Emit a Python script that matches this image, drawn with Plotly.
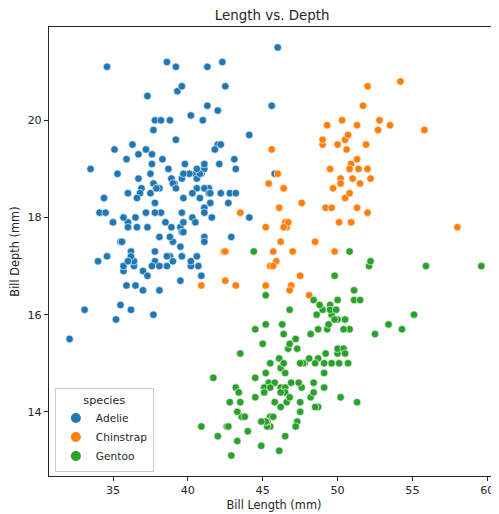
import plotly.graph_objects as go

adelie_len = [39.1,39.5,40.3,36.7,39.3,38.9,39.2,34.1,42.0,37.8,37.8,41.1,38.6,34.6,36.6,38.7,42.5,34.4,46.0,37.8,
              37.7,35.9,38.2,38.8,35.3,40.6,40.5,37.9,40.5,39.5,37.2,39.5,40.9,36.4,39.2,38.8,42.2,37.6,39.8,36.5,
              40.8,36.0,44.1,37.0,39.6,41.1,37.5,36.0,42.3,39.6,40.1,35.0,42.0,34.5,41.4,39.0,40.6,36.5,37.6,35.7,
              41.3,37.6,41.1,36.4,41.6,35.5,41.1,35.9,41.8,33.5,39.7,39.6,45.8,35.5,42.8,40.9,37.2,36.2,42.1,34.6,
              42.9,36.7,35.1,37.3,41.3,36.3,36.9,38.3,38.9,35.7,41.1,34.0,39.6,36.2,40.8,38.1,40.3,33.1,43.2,35.0,
              41.0,37.7,37.8,37.9,39.7,38.6,38.2,38.1,43.2,38.1,45.6,39.7,42.2,39.6,42.7,38.6,37.3,35.7,41.1,36.2,
              37.7,40.2,41.4,35.2,40.6,38.8,41.5,39.0,44.1,38.5,43.1,36.8,37.5,38.1,41.1,35.6,40.2,37.0,39.7,40.2,
              40.6,32.1,40.7,37.3,39.0,39.2,36.6,36.0,37.8,36.0,41.5]
adelie_dep = [18.7,17.4,18.0,19.3,20.6,17.8,19.6,18.1,20.2,17.1,17.3,17.6,21.2,21.1,17.8,19.0,20.7,18.4,21.5,18.3,
              18.7,19.2,18.1,17.2,18.9,18.6,17.9,18.6,18.9,16.7,18.1,17.8,18.9,17.0,21.1,20.0,18.5,19.3,19.1,18.0,
              18.4,18.5,19.7,16.9,18.8,19.0,18.9,17.9,21.2,17.7,18.9,17.9,19.5,18.1,18.6,17.5,18.8,16.6,19.1,16.9,
              21.1,17.0,18.2,17.1,18.0,16.2,19.1,16.6,19.4,19.0,18.4,17.2,18.9,17.5,18.5,16.8,19.4,16.1,19.1,17.2,
              17.6,18.8,19.4,17.8,20.3,19.5,18.6,19.2,18.8,18.0,18.1,17.1,18.1,17.3,18.9,18.6,18.5,16.1,18.5,17.9,
              20.0,16.0,20.0,18.6,18.9,17.2,20.0,17.0,19.0,16.5,20.3,17.7,19.5,20.7,18.3,17.0,20.5,17.0,18.6,17.2,
              19.8,17.0,18.5,15.9,19.0,17.6,18.3,17.1,18.0,17.9,19.2,18.5,18.5,17.6,17.5,17.5,20.1,16.5,17.9,17.1,
              17.2,15.5,17.0,16.8,18.7,18.6,18.4,17.8,18.1,17.1,18.5]

chinstrap_len = [46.5,50.0,51.3,45.4,52.7,45.2,46.1,51.3,46.0,51.3,46.6,51.7,47.0,52.0,45.9,50.5,50.3,58.0,46.4,49.2,
                 42.4,48.5,43.2,50.6,46.7,52.0,50.5,49.5,46.4,52.8,40.9,54.2,42.5,51.0,49.7,47.5,47.6,52.0,46.9,53.5,
                 49.0,46.2,50.9,45.5,50.9,50.8,50.1,49.0,51.5,49.8,48.1,51.4,45.7,50.7,42.5,52.2,45.2,49.3,50.2,45.6,
                 51.9,46.8,45.7,55.8,43.5,49.6,50.8,50.2]
chinstrap_dep = [17.9,19.5,19.2,18.7,19.8,17.8,18.2,18.2,18.9,19.9,17.8,20.3,17.3,18.1,17.1,19.6,20.0,17.8,18.6,18.2,
                 17.3,17.5,16.6,19.4,17.9,19.0,18.4,19.0,17.8,20.0,16.6,20.8,16.7,18.8,18.6,16.8,18.3,20.7,16.6,19.9,
                 19.5,17.5,19.1,17.0,17.9,18.5,17.9,19.6,18.7,17.3,16.4,19.0,17.3,19.7,17.3,18.8,16.6,19.9,18.8,19.4,
                 19.5,16.5,17.0,19.8,18.1,18.2,19.0,18.7]

gentoo_len = [46.1,50.0,48.7,50.0,47.6,46.5,45.4,46.7,43.3,46.8,40.9,49.0,45.5,48.4,45.8,49.3,42.0,49.2,46.2,48.7,
              50.2,45.1,46.5,46.3,42.9,46.1,44.5,47.8,48.2,50.0,47.3,42.8,45.1,59.6,49.1,48.4,42.6,44.4,44.0,48.7,
              42.7,49.6,45.3,49.6,50.5,43.6,45.5,50.5,44.9,45.2,46.6,48.5,45.1,50.1,46.5,45.0,43.8,45.5,43.2,50.4,
              45.3,46.2,45.7,54.3,45.8,49.8,46.2,49.5,43.5,50.7,47.7,46.4,48.2,46.5,46.4,48.6,47.5,51.1,45.2,45.2,
              49.1,52.5,47.4,50.0,44.9,50.8,43.4,51.3,47.5,52.1,47.5,52.2,45.5,49.5,44.5,50.8,49.4,46.9,48.4,51.1,
              48.5,55.9,47.2,49.1,47.3,46.8,41.7,53.4,43.3,48.1,50.5,49.8,43.5,51.5,46.2,55.1,44.5,48.8,47.2,46.8,
              50.4,45.2,49.9]
gentoo_dep = [13.2,16.3,14.1,15.2,14.5,13.5,14.6,15.3,13.4,15.4,13.7,16.1,13.7,14.6,14.6,15.7,13.5,15.2,14.5,15.1,
              14.3,14.5,14.5,15.8,13.1,15.1,14.3,15.0,14.3,15.3,15.3,14.2,14.5,17.0,14.8,16.3,13.7,17.3,13.6,15.7,
              13.7,16.0,13.7,15.0,15.9,13.9,13.9,15.9,13.3,15.8,14.2,14.1,14.4,15.0,14.4,15.4,13.9,15.0,14.5,15.3,
              13.8,14.9,13.9,15.7,14.2,16.8,14.4,16.2,14.2,15.0,15.0,15.6,15.6,14.8,15.0,16.0,14.2,16.3,13.8,16.4,
              14.5,15.6,14.6,15.9,13.8,17.3,14.4,14.2,14.0,17.0,15.0,17.1,14.5,16.1,14.7,15.7,15.8,14.6,14.4,16.5,
              15.0,17.0,15.5,15.0,13.8,16.1,14.7,15.8,14.0,15.1,15.2,15.9,15.2,16.3,14.1,16.0,15.7,16.2,13.7,14.3,
              15.7,14.8,16.1]

species = ["Adelie", "Chinstrap", "Gentoo"]
colors = ["#1f77b4", "#ff7f0e", "#2ca02c"]
x_ticks = [35, 40, 45, 50, 55, 60]
y_ticks = [14, 16, 18, 20]

FONT = "DejaVu Sans"
fig = go.Figure()
for name, xs, ys, c in zip(species,
                           [adelie_len, chinstrap_len, gentoo_len],
                           [adelie_dep, chinstrap_dep, gentoo_dep], colors):
    fig.add_trace(go.Scatter(x=xs, y=ys, mode="markers", name=name,
                             marker=dict(color=c, size=7.5, line=dict(color="white", width=0.6))))

axis_common = dict(showgrid=False, zeroline=False, showline=True, linecolor="#262626", linewidth=1,
                   ticks="outside", ticklen=4, tickcolor="#262626", tickwidth=1, automargin=False,
                   tickfont=dict(family=FONT, size=11.2, color="#262626"), mirror=True)
fig.update_xaxes(range=[30.725, 60.78], tickvals=x_ticks,
                 title=dict(text="Bill Length (mm)", font=dict(family=FONT, size=11.4, color="#262626"), standoff=4),
                 **axis_common)
fig.update_yaxes(range=[12.68, 21.92], tickvals=y_ticks,
                 title=dict(text="Bill Depth (mm)", font=dict(family=FONT, size=11.4, color="#262626"), standoff=6),
                 **axis_common)
fig.update_layout(
    width=491, height=506,
    margin=dict(l=41, r=0, t=19, b=38),
    plot_bgcolor="white", paper_bgcolor="white",
    title=dict(text="Length vs. Depth", x=0.538, xanchor="center", y=0.986, yanchor="middle",
               font=dict(family=FONT, size=13.4, color="#262626")),
    legend=dict(x=0.013, y=0.009, xanchor="left", yanchor="bottom",
                bgcolor="rgba(255,255,255,0.8)", bordercolor="#cccccc", borderwidth=1,
                title=dict(text="species", side="top center", font=dict(family=FONT, size=11.2, color="#262626")),
                font=dict(family=FONT, size=10.6, color="#262626"), itemsizing="constant",
                tracegroupgap=0),
    showlegend=True,
)
fig.write_html("out.html")
